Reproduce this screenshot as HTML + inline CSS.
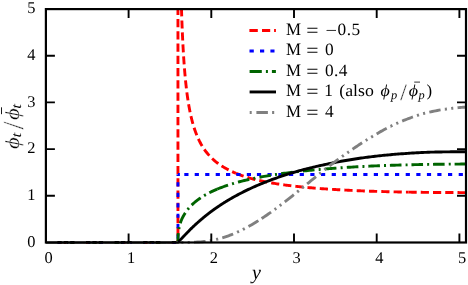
<!DOCTYPE html>
<html><head><meta charset="utf-8"><title>plot</title>
<style>html,body{margin:0;padding:0;background:#fff;overflow:hidden}svg{display:block;will-change:transform;opacity:0.999}text{font-family:"Liberation Serif",serif;fill:#000;text-rendering:geometricPrecision}</style></head><body>
<svg width="468" height="285" viewBox="0 0 468 285">
<rect width="468" height="285" fill="#fff"/>
<defs><clipPath id="c"><rect x="45.90" y="8.10" width="420.10" height="236.40"/></clipPath></defs>
<g clip-path="url(#c)" fill="none" stroke-width="2.90" stroke-linejoin="round">
<path d="M45.90,242.40 L54.05,242.40 M58.05,242.40 L66.20,242.40 M70.20,242.40 L78.35,242.40 M82.35,242.40 L90.50,242.40 M94.50,242.40 L102.65,242.40 M106.65,242.40 L114.80,242.40 M118.80,242.40 L126.95,242.40 M130.95,242.40 L139.10,242.40 M143.10,242.40 L151.25,242.40 M155.25,242.40 L163.40,242.40 M167.40,242.40 L175.55,242.40" stroke="#ff0000"/>
<path d="M177.95,242.40 L177.95,239.60 M177.95,235.55 L177.95,227.35 M177.95,223.30 L177.95,215.10 M177.95,211.05 L177.95,202.85 M177.95,198.80 L177.95,190.60 M177.95,186.55 L177.95,178.35 M177.95,174.30 L177.95,166.10 M177.95,162.05 L177.95,153.85 M177.95,149.80 L177.95,141.60 M177.95,137.55 L177.95,129.35 M177.95,125.30 L177.95,117.10 M177.95,113.05 L177.95,104.85 M177.95,100.80 L177.95,92.60 M177.95,88.55 L177.95,80.35 M177.95,76.30 L177.95,68.10 M177.95,64.05 L177.95,55.85 M177.95,51.80 L177.95,43.60 M177.95,39.55 L177.95,31.35 M177.95,27.30 L177.95,19.10 M177.95,15.05 L177.95,6.85 M177.95,2.80 L177.95,-5.40 M177.95,-9.45 L177.95,-17.65" stroke="#ff0000"/>
<path d="M180.36,-39.01 L180.39,-36.81 L180.43,-34.67 L180.47,-32.58 L180.49,-31.68 M180.57,-27.70 L180.59,-26.58 L180.63,-24.67 L180.67,-22.80 L180.70,-20.97 L180.73,-19.65 M180.82,-15.67 L180.86,-14.02 L180.90,-12.37 L180.94,-10.75 L180.98,-9.16 L181.01,-7.63 M181.12,-3.65 L181.13,-3.11 L181.17,-1.67 L181.21,-0.25 L181.25,1.14 L181.29,2.51 L181.33,3.85 L181.34,4.40 M181.46,8.38 L181.48,9.00 L181.52,10.24 L181.56,11.45 L181.60,12.65 L181.64,13.82 L181.67,14.98 L181.72,16.42 M181.87,20.40 L181.87,20.50 L181.91,21.56 L181.95,22.60 L182.02,24.63 L182.06,25.62 L182.10,26.60 L182.18,28.44 M182.34,32.42 L182.37,33.10 L182.41,33.98 L182.49,35.70 L182.53,36.55 L182.61,38.20 L182.64,39.02 L182.71,40.46 M182.92,44.44 L182.92,44.44 L182.99,45.90 L183.07,47.34 L183.15,48.74 L183.23,50.11 L183.30,51.44 L183.37,52.47 M183.61,56.45 L183.65,57.12 L183.73,58.31 L183.81,59.48 L183.93,61.18 L184.00,62.29 L184.08,63.38 L184.16,64.48 M184.46,68.45 L184.51,69.00 L184.62,70.44 L184.74,71.84 L184.82,72.76 L184.93,74.10 L185.05,75.41 L185.15,76.47 M185.53,80.43 L185.63,81.49 L185.75,82.62 L185.87,83.72 L186.02,85.16 L186.14,86.21 L186.25,87.24 L186.39,88.43 M186.88,92.38 L187.03,93.56 L187.18,94.73 L187.34,95.87 L187.49,96.97 L187.65,98.06 L187.80,99.11 L187.99,100.35 M188.62,104.28 L188.81,105.39 L189.05,106.71 L189.24,107.78 L189.47,109.03 L189.67,110.04 L189.90,111.22 L190.10,112.20 M190.94,116.09 L191.18,117.12 L191.49,118.42 L191.76,119.52 L192.07,120.73 L192.34,121.76 L192.65,122.90 L192.93,123.89 M194.08,127.70 L194.44,128.80 L194.83,129.96 L195.22,131.07 L195.64,132.25 L196.03,133.28 L196.42,134.28 L196.81,135.27 M198.40,138.92 L198.94,140.05 L199.48,141.16 L200.03,142.22 L200.57,143.24 L201.11,144.22 L201.66,145.16 L202.17,146.03 M204.33,149.37 L204.99,150.30 L205.73,151.30 L206.47,152.26 L207.17,153.13 L207.90,154.02 L208.64,154.87 L209.34,155.66 M212.13,158.50 L212.99,159.30 L213.88,160.10 L214.77,160.87 L215.66,161.61 L216.56,162.32 L217.45,163.01 L218.31,163.65 M221.59,165.89 L222.57,166.51 L223.58,167.12 L224.59,167.71 L225.60,168.28 L226.60,168.84 L227.61,169.37 L228.59,169.87 M232.17,171.61 L232.70,171.85 L233.24,172.09 L233.78,172.34 L234.33,172.57 L234.87,172.81 L235.41,173.04 L235.98,173.28" stroke="#ff0000"/>
<path d="M235.98,173.28 L236.11,173.33 L237.40,173.86 L238.68,174.37 L239.97,174.86 L241.26,175.33 L242.54,175.79 L243.60,176.16 M247.45,177.42 L248.46,177.73 L249.49,178.04 L250.78,178.41 L251.81,178.68 L253.10,179.02 L254.13,179.28 L255.31,179.57 M259.25,180.49 L260.05,180.67 L261.33,180.95 L262.36,181.17 L263.65,181.44 L264.68,181.64 L265.97,181.90 L267.23,182.14 M271.21,182.87 L272.14,183.04 L273.43,183.26 L274.46,183.43 L275.75,183.64 L276.78,183.81 L278.06,184.01 L279.25,184.19 M283.26,184.77 L284.24,184.90 L285.53,185.07 L286.56,185.21 L287.84,185.37 L288.87,185.50 L290.16,185.66 L291.34,185.80 M295.36,186.27 L296.34,186.38 L297.63,186.52 L298.65,186.63 L299.94,186.76 L300.97,186.87 L302.26,186.99 L303.47,187.11" stroke="#ff0000"/>
<path d="M307.50,187.50 L308.44,187.58 L309.72,187.69 L311.01,187.81 L312.04,187.90 L313.33,188.00 L314.61,188.11 L315.67,188.20 M319.78,188.51 L320.79,188.59 L322.08,188.68 L323.11,188.76 L324.39,188.85 L325.42,188.92 L326.71,189.01 L327.96,189.09 M332.06,189.35 L332.89,189.40 L334.17,189.48 L335.46,189.55 L336.49,189.61 L337.78,189.69 L339.06,189.76 L340.25,189.82 M344.36,190.05 L345.24,190.10 L346.53,190.17 L347.82,190.23 L348.85,190.28 L350.13,190.35 L351.42,190.41 L352.55,190.46 M356.67,190.65 L357.60,190.69 L358.88,190.75 L360.17,190.80 L361.20,190.84 L362.49,190.90 L363.77,190.95 L364.86,190.99 M368.97,191.14 L369.95,191.18 L371.24,191.22 L372.52,191.26 L373.55,191.30 L374.84,191.34 L376.13,191.38 L377.17,191.41 M381.29,191.54 L382.31,191.56 L383.59,191.60 L384.62,191.63 L385.91,191.66 L386.94,191.69 L388.23,191.72 L389.48,191.75 M393.60,191.85 L394.40,191.87 L395.69,191.89 L396.98,191.92 L398.01,191.94 L399.29,191.97 L400.58,191.99 L401.80,192.02 M405.92,192.09 L405.98,192.09 L406.50,192.10 L406.76,192.10 L407.27,192.11 L407.53,192.12 L408.04,192.13 L408.50,192.13" stroke="#ff0000"/>
<path d="M408.50,192.13 L409.33,192.15 L410.62,192.17 L411.90,192.19 L412.93,192.20 L414.22,192.22 L415.51,192.24 L416.70,192.25 M420.75,192.30 L421.69,192.32 L422.97,192.33 L424.26,192.34 L425.29,192.35 L426.58,192.37 L427.86,192.38 L428.95,192.39 M433.00,192.43 L433.78,192.43 L435.07,192.45 L436.36,192.46 L437.39,192.46 L438.67,192.47 L439.96,192.48 L441.20,192.49 M445.25,192.51 L446.14,192.52 L447.42,192.53 L448.71,192.53 L449.74,192.54 L451.03,192.54 L452.31,192.55 L453.45,192.55 M457.50,192.57 L458.49,192.57 L459.78,192.58 L460.81,192.58 L462.09,192.59 L463.12,192.59 L464.41,192.59 L465.70,192.60" stroke="#ff0000"/>
<path d="M45.90,242.40 L50.10,242.40 M56.45,242.40 L60.65,242.40 M67.00,242.40 L71.20,242.40 M77.55,242.40 L81.75,242.40 M88.10,242.40 L92.30,242.40 M98.65,242.40 L102.85,242.40 M109.20,242.40 L113.40,242.40 M119.75,242.40 L123.95,242.40 M130.30,242.40 L134.50,242.40 M140.85,242.40 L145.05,242.40 M151.40,242.40 L155.60,242.40 M161.95,242.40 L166.15,242.40 M172.50,242.40 L176.70,242.40" stroke="#0000ff"/>
<path d="M177.95,238.75 L177.95,234.55 M177.95,228.30 L177.95,224.10 M177.95,217.85 L177.95,213.65 M177.95,207.40 L177.95,203.20 M177.95,196.95 L177.95,192.75 M177.95,186.50 L177.95,182.30 M177.95,176.05 L177.95,174.56" stroke="#0000ff"/>
<path d="M177.95,174.56 H179.85 M184.30,174.56 H188.50 M194.70,174.56 H198.90 M205.20,174.56 H209.40 M215.70,174.56 H219.90 M226.00,174.56 H230.20 M236.30,174.56 H240.50 M246.80,174.56 H251.00 M256.90,174.56 H261.10 M267.50,174.56 H271.70 M278.30,174.56 H282.50 M289.00,174.56 H293.20 M299.70,174.56 H303.90 M310.30,174.56 H314.50 M321.00,174.56 H325.20 M331.70,174.56 H335.90 M342.20,174.56 H346.40 M352.80,174.56 H357.00 M363.30,174.56 H367.50 M373.80,174.56 H378.00 M384.50,174.56 H388.70 M395.00,174.56 H399.20 M405.70,174.56 H409.90 M416.30,174.56 H420.50 M426.90,174.56 H431.10 M437.30,174.56 H441.50 M448.00,174.56 H452.20 M458.70,174.56 H462.90" stroke="#0000ff"/>
<path d="M45.90,242.40 L57.50,242.40 M61.60,242.40 L63.60,242.40 M67.55,242.40 L79.15,242.40 M83.25,242.40 L85.25,242.40 M89.20,242.40 L100.80,242.40 M104.90,242.40 L106.90,242.40 M110.85,242.40 L122.45,242.40 M126.55,242.40 L128.55,242.40 M132.50,242.40 L144.10,242.40 M148.20,242.40 L150.20,242.40 M154.15,242.40 L165.75,242.40 M169.85,242.40 L171.85,242.40 M175.80,242.40 L177.95,242.40" stroke="#006400"/>
<path d="M177.95,242.40 L177.99,238.48 L178.03,237.30 L178.11,235.73 L178.14,235.12 L178.22,234.09 L178.26,233.65 L178.31,233.11 M178.86,229.05 L178.88,228.93 L178.96,228.51 L179.00,228.30 L179.08,227.90 L179.11,227.71 L179.19,227.33 L179.24,227.09 M180.25,223.27 L180.94,221.27 L181.67,219.44 L182.41,217.83 L183.11,216.47 L183.85,215.17 L184.58,213.98 L185.30,212.87 M187.69,209.54 L187.80,209.39 L188.00,209.15 L188.19,208.91 L188.39,208.67 L188.58,208.44 L188.77,208.21 L188.96,207.99 M191.65,205.11 L192.93,203.89 L194.21,202.74 L195.49,201.66 L196.81,200.62 L198.09,199.65 L199.37,198.74 L200.67,197.85 M204.13,195.65 L204.33,195.53 L204.61,195.37 L204.84,195.23 L205.11,195.07 L205.34,194.94 L205.61,194.78 L205.86,194.64 M209.34,192.76 L210.42,192.22 L211.55,191.67 L212.68,191.13 L213.80,190.62 L214.93,190.11 L216.05,189.62 L217.16,189.15" stroke="#006400"/>
<path d="M217.16,189.15 L218.69,188.53 L220.24,187.92 L221.79,187.32 L223.38,186.74 L224.94,186.19 L226.49,185.65 L228.04,185.13 M232.05,183.87 L232.31,183.79 L232.58,183.71 L232.85,183.63 L233.12,183.55 L233.39,183.47 L233.67,183.39 L233.96,183.30 M238.00,182.16 L239.46,181.77 L241.00,181.36 L242.80,180.91 L244.35,180.52 L246.15,180.09 L247.69,179.73 L249.26,179.37 M253.36,178.47 L253.61,178.42 L253.87,178.36 L254.13,178.31 L254.38,178.26 L254.64,178.20 L254.90,178.15 L255.32,178.06 M259.43,177.24 L260.82,176.98 L262.62,176.65 L264.17,176.38 L265.97,176.07 L267.51,175.81 L269.31,175.51 L270.86,175.26 M275.01,174.61 L275.23,174.58 L275.49,174.54 L275.75,174.50 L276.00,174.47 L276.26,174.43 L276.52,174.39 L276.99,174.32 M281.14,173.73 L282.44,173.55 L284.24,173.30 L285.79,173.10 L287.59,172.86 L289.13,172.67 L290.93,172.44 L292.64,172.23 M296.81,171.74 L296.85,171.74 L297.11,171.71 L297.37,171.68 L297.88,171.62 L298.14,171.59 L298.40,171.56 L298.80,171.52 M302.97,171.06 L304.32,170.92 L306.12,170.74 L307.66,170.58 L309.47,170.40 L311.01,170.25 L312.81,170.08 L314.51,169.92 M318.70,169.54 L318.73,169.54 L318.99,169.52 L319.25,169.49 L319.76,169.45 L320.02,169.43 L320.28,169.40 L320.69,169.37 M324.87,169.01 L326.20,168.90 L328.00,168.75 L329.54,168.63 L331.34,168.49 L332.89,168.37 L334.69,168.23 L336.43,168.11 M340.62,167.81 L340.87,167.79 L341.12,167.78 L341.38,167.76 L341.64,167.74 L341.90,167.72 L342.15,167.71 L342.62,167.67" stroke="#006400"/>
<path d="M346.80,167.40 L348.33,167.30 L350.13,167.19 L351.68,167.10 L353.48,166.99 L355.02,166.91 L356.82,166.80 L358.38,166.72 M362.47,166.50 L362.49,166.50 L362.74,166.49 L363.00,166.48 L363.52,166.45 L363.77,166.44 L364.03,166.42 L364.47,166.40 M368.34,166.21 L369.69,166.15 L371.50,166.07 L373.04,166.00 L374.84,165.92 L376.39,165.86 L378.19,165.78 L379.93,165.71 M384.03,165.55 L384.11,165.55 L384.36,165.54 L384.62,165.53 L385.14,165.51 L385.39,165.50 L385.65,165.49 L386.02,165.48 M389.90,165.35 L391.31,165.30 L393.12,165.24 L394.66,165.19 L396.46,165.14 L398.01,165.09 L399.81,165.04 L401.49,164.99 M405.59,164.88 L405.73,164.88 L405.98,164.87 L406.24,164.87 L406.76,164.85 L407.01,164.85 L407.27,164.84 L407.59,164.83 M411.46,164.74 L412.93,164.71 L414.74,164.67 L416.28,164.63 L418.08,164.60 L419.63,164.57 L421.43,164.53 L423.06,164.50 M427.16,164.43 L427.35,164.43 L427.61,164.42 L427.86,164.42 L428.38,164.41 L428.63,164.40 L428.89,164.40 L429.16,164.40 M433.03,164.34 L434.55,164.31 L436.36,164.29 L437.90,164.27 L439.70,164.24 L441.25,164.23 L443.05,164.21 L444.63,164.19 M448.73,164.16 L448.97,164.15 L449.23,164.15 L449.48,164.15 L449.74,164.15 L450.00,164.15 L450.26,164.14 L450.73,164.14 M454.60,164.11 L455.92,164.10 L457.72,164.09 L459.26,164.08 L461.07,164.07 L462.61,164.06 L464.41,164.05 L466.20,164.04" stroke="#006400"/>
<path d="M45.90,242.40 L178.14,242.17 L178.38,241.92 L178.61,241.66 L178.84,241.40 L179.08,241.15 L179.31,240.89 L179.54,240.64 L179.77,240.39 L180.01,240.13 L180.24,239.88 L180.47,239.64 L180.70,239.39 L180.94,239.14 L181.17,238.89 L181.40,238.65 L181.64,238.41 L181.87,238.16 L182.10,237.92 L182.33,237.68 L182.57,237.44 L182.80,237.20 L183.03,236.97 L183.27,236.73 L183.50,236.49 L183.73,236.26 L183.96,236.02 L184.20,235.79 L184.43,235.56 L184.66,235.33 L184.90,235.10 L185.13,234.86 L185.36,234.61 L185.59,234.36 L185.83,234.11 L186.06,233.86 L186.29,233.61 L186.52,233.36 L186.76,233.12 L186.99,232.87 L187.22,232.63 L187.46,232.39 L187.69,232.14 L187.92,231.90 L188.15,231.66 L188.39,231.42 L188.62,231.19 L188.85,230.95 L189.09,230.71 L189.32,230.48 L189.55,230.24 L189.78,230.01 L190.02,229.77 L190.25,229.54 L190.48,229.31 L190.71,229.08 L190.95,228.85 L191.18,228.62 L191.41,228.39 L191.65,228.16 L191.88,227.94 L192.11,227.71 L192.34,227.49 L192.58,227.26 L192.81,227.04 L193.04,226.82 L193.28,226.60 L193.51,226.38 L193.74,226.16 L193.97,225.94 L194.21,225.72 L194.44,225.50 L194.67,225.28 L194.91,225.07 L195.14,224.85 L195.37,224.64 L195.60,224.42 L195.84,224.21 L196.07,224.00 L196.30,223.79 L196.53,223.58 L196.77,223.37 L197.00,223.16 L197.23,222.95 L197.47,222.74 L197.70,222.53 L197.93,222.33 L198.16,222.12 L198.40,221.92 L198.63,221.71 L198.86,221.51 L199.10,221.31 L199.33,221.10 L199.56,220.90 L199.79,220.70 L200.03,220.50 L200.26,220.30 L200.49,220.10 L200.73,219.90 L200.96,219.70 L201.19,219.50 L201.42,219.30 L201.66,219.10 L201.89,218.90 L202.12,218.70 L202.35,218.51 L202.59,218.31 L202.82,218.12 L203.05,217.92 L203.29,217.73 L203.52,217.54 L203.75,217.34 L203.98,217.15 L204.22,216.96 L204.45,216.77 L204.68,216.58 L204.92,216.39 L205.15,216.20 L205.38,216.01 L205.61,215.83 L205.85,215.64 L206.08,215.45 L206.31,215.27 L206.55,215.08 L206.78,214.90 L207.01,214.72 L207.24,214.53 L207.48,214.35 L207.71,214.17 L207.94,213.99 L208.17,213.81 L208.41,213.63 L208.64,213.45 L208.87,213.27 L209.11,213.09 L209.34,212.91 L209.57,212.73 L209.80,212.56 L210.04,212.38 L210.27,212.20 L210.50,212.03 L210.74,211.86 L210.97,211.68 L211.20,211.51 L211.43,211.34 L211.67,211.16 L211.90,210.99 L212.13,210.82 L212.36,210.65 L212.60,210.48 L212.83,210.31 L213.06,210.14 L213.30,209.97 L213.53,209.80 L213.76,209.64 L213.99,209.47 L214.23,209.30 L214.46,209.14 L214.69,208.97 L214.93,208.81 L215.16,208.64 L215.39,208.48 L215.62,208.32 L215.86,208.15 L216.09,207.99 L216.32,207.83 L216.56,207.67 L216.79,207.51 L217.02,207.35 L217.25,207.19 L217.49,207.03 L217.72,206.87 L217.95,206.71 L218.18,206.55 L218.42,206.39 L218.65,206.24 L218.88,206.08 L219.12,205.92 L219.35,205.77 L219.58,205.61 L219.81,205.46 L220.05,205.31 L220.28,205.15 L220.51,205.00 L220.75,204.85 L220.98,204.69 L221.21,204.54 L221.44,204.39 L221.68,204.24 L221.91,204.09 L222.14,203.94 L222.38,203.79 L222.61,203.64 L222.84,203.49 L223.07,203.34 L223.31,203.19 L223.54,203.05 L223.77,202.90 L224.00,202.75 L224.24,202.61 L224.47,202.46 L224.70,202.32 L224.94,202.17 L225.17,202.03 L225.40,201.88 L225.63,201.74 L225.87,201.60 L226.10,201.45 L226.33,201.31 L226.57,201.17 L226.80,201.03 L227.03,200.89 L227.26,200.75 L227.50,200.61 L227.73,200.47 L227.96,200.33 L228.19,200.19 L228.43,200.05 L228.66,199.91 L228.89,199.77 L229.13,199.63 L229.36,199.50 L229.59,199.36 L229.82,199.22 L230.06,199.09 L230.29,198.95 L230.52,198.82 L230.76,198.68 L230.99,198.55 L231.22,198.41 L231.45,198.28 L231.69,198.15 L231.92,198.01 L232.15,197.88 L232.39,197.75 L232.62,197.62 L232.85,197.49 L233.08,197.35 L233.32,197.22 L233.55,197.09 L233.78,196.96 L234.01,196.83 L234.25,196.70 L234.48,196.57 L234.71,196.45 L234.95,196.32 L235.18,196.19 L235.41,196.06 L235.64,195.94 L235.88,195.81 L236.11,195.68 L237.65,194.85 L239.20,194.03 L240.74,193.23 L242.29,192.44 L243.83,191.67 L245.38,190.91 L246.92,190.16 L248.46,189.43 L250.01,188.70 L251.55,187.99 L253.10,187.29 L254.64,186.60 L256.19,185.93 L257.73,185.26 L259.27,184.61 L260.82,183.96 L262.36,183.33 L263.91,182.70 L265.45,182.09 L267.00,181.48 L268.54,180.89 L270.08,180.30 L271.63,179.72 L273.17,179.15 L274.72,178.59 L276.26,178.04 L277.81,177.50 L279.35,176.96 L280.90,176.44 L282.44,175.92 L283.98,175.41 L285.53,174.90 L287.07,174.41 L288.62,173.92 L290.16,173.44 L291.71,172.96 L293.25,172.50 L294.79,172.04 L296.34,171.58 L297.88,171.14 L299.43,170.70 L300.97,170.28 L302.52,169.87 L304.06,169.46 L305.60,169.06 L307.15,168.67 L308.69,168.29 L310.24,167.91 L311.78,167.54 L313.33,167.17 L314.87,166.81 L316.41,166.45 L317.96,166.11 L319.50,165.76 L321.05,165.41 L322.59,165.06 L324.14,164.72 L325.68,164.38 L327.22,164.05 L328.77,163.72 L330.31,163.40 L331.86,163.09 L333.40,162.77 L334.95,162.47 L336.49,162.17 L338.03,161.87 L339.58,161.58 L341.12,161.30 L342.67,161.02 L344.21,160.75 L345.76,160.48 L347.30,160.21 L348.85,159.96 L350.39,159.70 L351.93,159.45 L353.48,159.21 L355.02,158.97 L356.57,158.73 L358.11,158.50 L359.66,158.28 L361.20,158.06 L362.74,157.84 L364.29,157.63 L365.83,157.42 L367.38,157.22 L368.92,157.02 L370.47,156.83 L372.01,156.64 L373.55,156.45 L375.10,156.27 L376.64,156.10 L378.19,155.92 L379.73,155.76 L381.28,155.59 L382.82,155.43 L384.36,155.27 L385.91,155.12 L387.45,154.97 L389.00,154.83 L390.54,154.69 L392.09,154.55 L393.63,154.42 L395.17,154.29 L396.72,154.16 L398.26,154.04 L399.81,153.92 L401.35,153.80 L402.90,153.69 L404.44,153.58 L405.98,153.47 L407.53,153.37 L409.07,153.26 L410.62,153.17 L412.16,153.07 L413.71,152.98 L415.25,152.89 L416.79,152.81 L418.34,152.72 L419.88,152.64 L421.43,152.56 L422.97,152.49 L424.52,152.41 L426.06,152.34 L427.61,152.28 L429.15,152.21 L430.69,152.16 L432.24,152.12 L433.78,152.08 L435.33,152.05 L436.87,152.02 L438.42,151.99 L439.96,151.96 L441.50,151.94 L443.05,151.91 L444.59,151.89 L446.14,151.87 L447.68,151.85 L449.23,151.84 L450.77,151.82 L452.31,151.81 L453.86,151.79 L455.40,151.78 L456.95,151.77 L458.49,151.77 L460.04,151.76 L461.58,151.75 L463.12,151.75 L464.67,151.74 L466.21,151.74" stroke="#000"/>
<path d="M45.90,242.40 L57.40,242.40 M61.70,242.40 L63.80,242.40 M68.10,242.40 L70.20,242.40 M74.50,242.40 L86.00,242.40 M90.30,242.40 L92.40,242.40 M96.70,242.40 L98.80,242.40 M103.10,242.40 L114.60,242.40 M118.90,242.40 L121.00,242.40 M125.30,242.40 L127.40,242.40 M131.70,242.40 L143.20,242.40 M147.50,242.40 L149.60,242.40 M153.90,242.40 L156.00,242.40 M160.30,242.40 L171.80,242.40 M176.10,242.40 L177.95,242.40" stroke="#808080"/>
<path d="M181.32,242.40 L181.60,242.40 L181.91,242.40 L182.22,242.40 L182.53,242.40 L182.84,242.40 L183.15,242.40 L183.42,242.40 M187.72,242.37 L188.00,242.37 L188.31,242.36 L188.62,242.36 L188.93,242.36 L189.24,242.35 L189.55,242.35 L189.82,242.34 M194.12,242.22 L195.72,242.16 L197.35,242.07 L199.02,241.96 L200.65,241.84 L202.32,241.69 L203.95,241.52 L205.58,241.32 M209.84,240.70 L210.08,240.66 L210.39,240.61 L210.70,240.56 L211.01,240.50 L211.32,240.45 L211.63,240.39 L211.90,240.34 M216.11,239.46 L216.36,239.40 L216.67,239.33 L216.98,239.25 L217.25,239.19 L217.56,239.11 L217.87,239.03 L218.15,238.96 M222.30,237.82 L223.85,237.35 L225.40,236.85 L226.95,236.32 L228.51,235.77 L230.06,235.19 L231.61,234.59 L233.13,233.98 M237.08,232.28 L237.14,232.25 L237.40,232.13 L237.65,232.02 L238.17,231.78 L238.43,231.66 L238.68,231.54 L238.99,231.40 M242.86,229.52 L243.06,229.41 L243.32,229.28 L243.57,229.15 L243.83,229.02 L244.09,228.89 L244.35,228.75 L244.72,228.56 M248.51,226.52 L249.75,225.82 L251.30,224.93 L252.58,224.18 L254.13,223.26 L255.41,222.48 L256.96,221.53 L258.39,220.63 M261.60,218.56 L262.88,217.72 L264.17,216.86 L265.45,215.99 L267.00,214.93 L268.28,214.04 L269.57,213.14 L271.08,212.06 M274.57,209.54 L274.72,209.43 L274.98,209.25 L275.23,209.06 L275.49,208.87 L275.75,208.68 L276.00,208.49 L276.26,208.30 M279.71,205.72 L279.87,205.60 L280.12,205.41 L280.38,205.21 L280.64,205.02 L280.90,204.82 L281.15,204.63 L281.38,204.46 M284.79,201.83 L286.04,200.86 L287.33,199.85 L288.62,198.84 L289.90,197.83 L291.19,196.81 L292.48,195.78 L293.82,194.71 M297.17,192.02 L297.37,191.86 L297.63,191.65 L297.88,191.44 L298.14,191.23 L298.40,191.03 L298.65,190.82 L298.80,190.70 M302.14,187.99 L302.26,187.89 L302.52,187.68 L302.77,187.47 L303.03,187.26 L303.29,187.05 L303.55,186.84 L303.77,186.66 M307.10,183.94 L308.18,183.06 L309.47,182.01 L310.75,180.95 L312.04,179.90 L313.33,178.85 L314.61,177.80 L316.00,176.66 M319.34,173.95 L319.50,173.82 L319.76,173.61 L320.02,173.40 L320.28,173.19 L320.53,172.98 L320.79,172.78 L320.97,172.63 M324.32,169.93 L324.39,169.87 L324.65,169.67 L324.91,169.46 L325.17,169.25 L325.42,169.05 L325.68,168.84 L325.96,168.62 M329.32,165.94 L330.57,164.98 L331.86,164.01 L333.14,163.05 L334.43,162.09 L335.72,161.14 L337.01,160.20 L338.55,159.07 M342.04,156.56 L342.15,156.48 L342.41,156.29 L342.67,156.11 L342.93,155.93 L343.18,155.75 L343.44,155.56 L343.75,155.35 M347.27,152.89 L347.30,152.87 L347.56,152.69 L347.82,152.51 L348.07,152.34 L348.33,152.16 L348.59,151.98 L349.01,151.70 M352.53,149.24 L353.74,148.40 L355.02,147.51 L356.57,146.46 L357.85,145.59 L359.40,144.56 L360.68,143.72 L362.07,142.81 M365.70,140.51 L365.83,140.43 L366.09,140.27 L366.35,140.11 L366.60,139.95 L366.86,139.79 L367.12,139.63 L367.49,139.40 M371.17,137.18 L371.24,137.14 L371.50,136.99 L371.75,136.84 L372.01,136.69 L372.27,136.53 L372.52,136.37 L372.97,136.10 M376.65,133.88 L377.93,133.13 L379.47,132.24 L381.02,131.37 L382.31,130.65 L383.85,129.80 L385.39,128.98 L386.70,128.29 M390.53,126.33 L390.54,126.33 L390.80,126.20 L391.06,126.07 L391.57,125.82 L391.83,125.69 L392.09,125.57 L392.41,125.41 M396.31,123.60 L396.46,123.53 L396.72,123.41 L396.98,123.30 L397.23,123.18 L397.49,123.07 L397.75,122.95 L398.23,122.74 M402.19,121.06 L403.67,120.45 L405.21,119.83 L406.76,119.23 L408.30,118.65 L409.85,118.08 L411.39,117.50 L412.93,116.94 M416.99,115.53 L417.05,115.51 L417.31,115.42 L417.57,115.34 L418.08,115.17 L418.34,115.08 L418.60,115.00 L418.98,114.87 M423.10,113.63 L423.23,113.60 L423.49,113.53 L423.74,113.47 L424.26,113.34 L424.52,113.27 L424.77,113.21 L425.13,113.12 M429.32,112.12 L430.69,111.82 L432.24,111.48 L434.04,111.11 L435.58,110.80 L437.39,110.46 L438.93,110.17 L440.59,109.88 M444.84,109.22 L444.85,109.22 L445.11,109.19 L445.62,109.12 L445.88,109.08 L446.39,109.01 L446.65,108.98 L446.92,108.94 M451.19,108.42 L451.28,108.41 L451.54,108.38 L451.80,108.35 L452.31,108.29 L452.57,108.26 L452.83,108.23 L453.28,108.18 M457.56,107.75 L458.75,107.64 L460.29,107.51 L461.58,107.40 L463.12,107.27 L464.41,107.18 L465.96,107.07 L467.50,106.95" stroke="#808080"/>
</g>
<g stroke="#000" stroke-width="1.9" fill="none">
<path d="M128.60,242.50 v-9.00 M128.60,9.10 v9.00"/>
<path d="M211.30,242.50 v-9.00 M211.30,9.10 v9.00"/>
<path d="M294.00,242.50 v-9.00 M294.00,9.10 v9.00"/>
<path d="M376.70,242.50 v-9.00 M376.70,9.10 v9.00"/>
<path d="M459.40,242.50 v-9.00 M459.40,9.10 v9.00"/>
<path d="M45.90,195.74 h9.00 M466.00,195.74 h-9.00"/>
<path d="M45.90,149.08 h9.00 M466.00,149.08 h-9.00"/>
<path d="M45.90,102.42 h9.00 M466.00,102.42 h-9.00"/>
<path d="M45.90,55.76 h9.00 M466.00,55.76 h-9.00"/>
</g>
<rect x="45.90" y="9.10" width="420.10" height="233.40" fill="none" stroke="#000" stroke-width="2.2"/>
<g font-size="16.4">
<text x="48.50" y="262.80" text-anchor="middle">0</text>
<text x="131.20" y="262.80" text-anchor="middle">1</text>
<text x="213.90" y="262.80" text-anchor="middle">2</text>
<text x="296.60" y="262.80" text-anchor="middle">3</text>
<text x="379.30" y="262.80" text-anchor="middle">4</text>
<text x="462.00" y="262.80" text-anchor="middle">5</text>
<text x="35.40" y="246.70" text-anchor="end">0</text>
<text x="35.40" y="200.04" text-anchor="end">1</text>
<text x="35.40" y="153.38" text-anchor="end">2</text>
<text x="35.40" y="106.72" text-anchor="end">3</text>
<text x="35.40" y="60.06" text-anchor="end">4</text>
<text x="35.40" y="13.40" text-anchor="end">5</text>
</g>
<text x="256.4" y="278.6" font-size="20" font-style="italic" text-anchor="middle">y</text>
<g transform="translate(18.8,149.8) rotate(-90)">
<text transform="translate(0.90,0.00) scale(1.130,1)" font-size="20.0" font-style="italic" stroke="#fff" stroke-width="0.25">ϕ</text>
<text transform="translate(12.20,2.40) scale(1.200,1)" font-size="14.0" font-style="italic">t</text>
<text transform="translate(20.40,3.90) scale(1.000,1)" font-size="29.0" stroke="#fff" stroke-width="0.45">/</text>
<text transform="translate(29.90,0.00) scale(1.130,1)" font-size="20.0" font-style="italic" stroke="#fff" stroke-width="0.25">ϕ</text>
<path d="M35.6,-17.3 h6.9" stroke="#000" stroke-width="0.9"/>
<text transform="translate(41.00,2.40) scale(1.200,1)" font-size="14.0" font-style="italic">t</text>
</g>
<path d="M249.40,30.45 H257.80 M262.00,30.45 H270.20 M274.10,30.45 H275.90" stroke="#ff0000" stroke-width="2.90" fill="none"/>
<path d="M249.50,50.95 H253.80 M260.00,50.95 H264.20 M270.40,50.95 H274.50" stroke="#0000ff" stroke-width="2.90" fill="none"/>
<path d="M249.60,71.45 H261.80 M265.90,71.45 H267.90 M271.90,71.45 H275.90" stroke="#006400" stroke-width="2.90" fill="none"/>
<path d="M249.60,91.95 H276.00" stroke="#000000" stroke-width="2.90" fill="none"/>
<path d="M249.70,112.45 H251.70 M256.40,112.45 H267.90 M272.10,112.45 H274.20" stroke="#808080" stroke-width="2.90" fill="none"/>
<text transform="translate(286.10,34.70) scale(0.960,1)" font-size="17.6">M</text>
<text transform="translate(306.20,36.70) scale(1.28,1.2)" font-size="17">=</text>
<text transform="translate(325.40,35.60) scale(1.200,1)" font-size="17.0">−</text>
<text transform="translate(337.50,34.70) scale(1.000,1)" font-size="17.3" letter-spacing="0.5">0.5</text>
<text transform="translate(286.10,55.20) scale(0.960,1)" font-size="17.6">M</text>
<text transform="translate(306.20,57.20) scale(1.28,1.2)" font-size="17">=</text>
<text transform="translate(324.90,55.20) scale(1.000,1)" font-size="17.3" letter-spacing="0.5">0</text>
<text transform="translate(286.10,75.70) scale(0.960,1)" font-size="17.6">M</text>
<text transform="translate(306.20,77.70) scale(1.28,1.2)" font-size="17">=</text>
<text transform="translate(324.90,75.70) scale(1.000,1)" font-size="17.3" letter-spacing="0.5">0.4</text>
<text transform="translate(286.10,96.20) scale(0.960,1)" font-size="17.6">M</text>
<text transform="translate(306.20,98.20) scale(1.28,1.2)" font-size="17">=</text>
<text transform="translate(324.20,96.20) scale(1.000,1)" font-size="17.3" letter-spacing="0.5">1</text>
<text transform="translate(286.10,116.70) scale(0.960,1)" font-size="17.6">M</text>
<text transform="translate(306.20,118.70) scale(1.28,1.2)" font-size="17">=</text>
<text transform="translate(324.90,116.70) scale(1.000,1)" font-size="17.3" letter-spacing="0.5">4</text>
<text transform="translate(339.30,96.20) scale(1.060,1)" font-size="16.8">(also</text>
<text transform="translate(380.60,96.20) scale(1.080,1)" font-size="16.6" font-style="italic">ϕ</text>
<text transform="translate(391.00,98.80) scale(1.000,1)" font-size="12.4" font-style="italic">p</text>
<text transform="translate(400.30,99.80) scale(1.000,1)" font-size="23.5" stroke="#fff" stroke-width="0.3">/</text>
<text transform="translate(408.80,96.20) scale(1.080,1)" font-size="16.6" font-style="italic">ϕ</text>
<path d="M414.2,82.1 h5.8" stroke="#000" stroke-width="0.8"/>
<text transform="translate(418.40,98.80) scale(1.000,1)" font-size="12.4" font-style="italic">p</text>
<text transform="translate(426.60,96.20) scale(1.000,1)" font-size="16.8">)</text>
</svg></body></html>
